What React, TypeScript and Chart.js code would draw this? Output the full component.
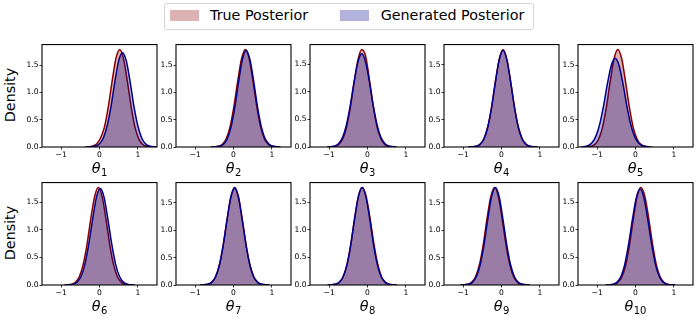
import React, { useEffect, useRef } from "react";
import { Chart, registerables } from "chart.js";
Chart.register(...registerables);

// ---------- data ----------
const xTicks = [-1, 0, 1];
const yTicks = [0, 0.5, 1.0, 1.5];
const subscripts = ["1", "2", "3", "4", "5", "6", "7", "8", "9", "10"];
const seriesNames = ["True Posterior", "Generated Posterior"];

const t1x = [-0.37, -0.17, -0.07, 0.03, 0.13, 0.23, 0.33, 0.43, 0.53, 0.63, 0.73, 0.83, 0.93, 1.03, 1.13, 1.23, 1.43];
const t1y = [0, 0.02, 0.06, 0.17, 0.37, 0.74, 1.21, 1.63, 1.79, 1.61, 1.19, 0.72, 0.35, 0.14, 0.045, 0.012, 0];
const g1x = [-0.3, -0.1, 0.0, 0.1, 0.2, 0.3, 0.4, 0.5, 0.6, 0.7, 0.8, 0.9, 1.0, 1.1, 1.2, 1.3, 1.5];
const g1y = [0, 0.017, 0.059, 0.166, 0.39, 0.74, 1.19, 1.58, 1.73, 1.58, 1.19, 0.74, 0.39, 0.166, 0.059, 0.017, 0];

const t2x = [-0.59, -0.39, -0.29, -0.19, -0.09, 0.01, 0.11, 0.21, 0.31, 0.41, 0.51, 0.61, 0.71, 0.81, 0.91, 1.01, 1.21];
const t2y = [0, 0.013, 0.048, 0.15, 0.37, 0.74, 1.21, 1.62, 1.79, 1.62, 1.2, 0.73, 0.36, 0.145, 0.047, 0.012, 0];
const g2x = [-0.57, -0.37, -0.27, -0.17, -0.07, 0.03, 0.13, 0.23, 0.33, 0.43, 0.53, 0.63, 0.73, 0.83, 0.93, 1.03, 1.23];
const g2y = [0, 0.012, 0.046, 0.14, 0.35, 0.71, 1.18, 1.6, 1.77, 1.6, 1.19, 0.72, 0.36, 0.145, 0.048, 0.013, 0];

const t3x = [-1.05, -0.85, -0.75, -0.65, -0.55, -0.45, -0.35, -0.25, -0.15, -0.05, 0.05, 0.15, 0.25, 0.35, 0.45, 0.55, 0.75];
const t3y = [0, 0.012, 0.045, 0.14, 0.35, 0.71, 1.17, 1.58, 1.77, 1.65, 1.22, 0.74, 0.36, 0.15, 0.047, 0.013, 0];
const g3x = [-1.05, -0.85, -0.75, -0.65, -0.55, -0.45, -0.35, -0.25, -0.15, -0.05, 0.05, 0.15, 0.25, 0.35, 0.45, 0.55, 0.75];
const g3y = [0, 0.02, 0.065, 0.176, 0.4, 0.75, 1.18, 1.54, 1.69, 1.54, 1.18, 0.75, 0.4, 0.176, 0.065, 0.02, 0];

const t4x = [-0.86, -0.66, -0.56, -0.46, -0.36, -0.26, -0.16, -0.06, 0.04, 0.14, 0.24, 0.34, 0.44, 0.54, 0.64, 0.74, 0.94];
const t4y = [0, 0.013, 0.048, 0.145, 0.36, 0.72, 1.19, 1.6, 1.78, 1.6, 1.19, 0.72, 0.36, 0.145, 0.048, 0.013, 0];
const g4x = [-0.86, -0.66, -0.56, -0.46, -0.36, -0.26, -0.16, -0.06, 0.04, 0.14, 0.24, 0.34, 0.44, 0.54, 0.64, 0.74, 0.94];
const g4y = [0, 0.014, 0.049, 0.147, 0.36, 0.72, 1.18, 1.59, 1.76, 1.59, 1.18, 0.72, 0.36, 0.147, 0.049, 0.014, 0];

const t5x = [-1.36, -1.16, -1.06, -0.96, -0.86, -0.76, -0.66, -0.56, -0.46, -0.36, -0.26, -0.16, -0.06, 0.04, 0.14, 0.24, 0.44];
const t5y = [0, 0.013, 0.048, 0.147, 0.36, 0.73, 1.2, 1.62, 1.79, 1.62, 1.2, 0.73, 0.36, 0.147, 0.048, 0.013, 0];
const g5x = [-1.43, -1.23, -1.13, -1.03, -0.93, -0.83, -0.73, -0.63, -0.53, -0.43, -0.33, -0.23, -0.13, -0.03, 0.07, 0.17, 0.37];
const g5y = [0, 0.028, 0.082, 0.204, 0.43, 0.77, 1.17, 1.5, 1.63, 1.5, 1.17, 0.77, 0.43, 0.204, 0.082, 0.028, 0];

const t6x = [-0.93, -0.73, -0.63, -0.53, -0.43, -0.33, -0.23, -0.13, -0.03, 0.07, 0.17, 0.27, 0.37, 0.47, 0.57, 0.67, 0.87];
const t6y = [0, 0.013, 0.048, 0.145, 0.36, 0.72, 1.19, 1.6, 1.77, 1.6, 1.19, 0.72, 0.36, 0.145, 0.048, 0.013, 0];
const g6x = [-0.88, -0.68, -0.58, -0.48, -0.38, -0.28, -0.18, -0.08, 0.02, 0.12, 0.22, 0.32, 0.42, 0.52, 0.62, 0.72, 0.92];
const g6y = [0, 0.016, 0.054, 0.158, 0.38, 0.74, 1.19, 1.59, 1.75, 1.59, 1.19, 0.74, 0.38, 0.158, 0.054, 0.016, 0];

const t7x = [-0.87, -0.67, -0.57, -0.47, -0.37, -0.27, -0.17, -0.07, 0.03, 0.13, 0.23, 0.33, 0.43, 0.53, 0.63, 0.73, 0.93];
const t7y = [0, 0.013, 0.048, 0.144, 0.36, 0.72, 1.18, 1.59, 1.76, 1.59, 1.18, 0.72, 0.36, 0.144, 0.048, 0.013, 0];
const g7x = [-0.87, -0.67, -0.57, -0.47, -0.37, -0.27, -0.17, -0.07, 0.03, 0.13, 0.23, 0.33, 0.43, 0.53, 0.63, 0.73, 0.93];
const g7y = [0, 0.013, 0.048, 0.146, 0.36, 0.72, 1.19, 1.61, 1.78, 1.61, 1.19, 0.72, 0.36, 0.146, 0.048, 0.013, 0];

const t8x = [-1.04, -0.84, -0.74, -0.64, -0.54, -0.44, -0.34, -0.24, -0.14, -0.04, 0.06, 0.16, 0.26, 0.36, 0.46, 0.56, 0.76];
const t8y = [0, 0.012, 0.046, 0.14, 0.35, 0.71, 1.18, 1.6, 1.77, 1.62, 1.24, 0.78, 0.4, 0.16, 0.052, 0.014, 0];
const g8x = [-1.04, -0.84, -0.74, -0.64, -0.54, -0.44, -0.34, -0.24, -0.14, -0.04, 0.06, 0.16, 0.26, 0.36, 0.46, 0.56, 0.76];
const g8y = [0, 0.013, 0.048, 0.145, 0.36, 0.72, 1.19, 1.6, 1.77, 1.6, 1.19, 0.72, 0.36, 0.145, 0.048, 0.013, 0];

const t9x = [-1.08, -0.88, -0.78, -0.68, -0.58, -0.48, -0.38, -0.28, -0.18, -0.08, 0.02, 0.12, 0.22, 0.32, 0.42, 0.52, 0.72];
const t9y = [0, 0.013, 0.048, 0.146, 0.36, 0.72, 1.2, 1.61, 1.78, 1.61, 1.19, 0.72, 0.36, 0.145, 0.048, 0.013, 0];
const g9x = [-1.06, -0.86, -0.76, -0.66, -0.56, -0.46, -0.36, -0.26, -0.16, -0.06, 0.04, 0.14, 0.24, 0.34, 0.44, 0.54, 0.74];
const g9y = [0, 0.013, 0.048, 0.146, 0.36, 0.72, 1.19, 1.61, 1.78, 1.61, 1.19, 0.72, 0.36, 0.146, 0.048, 0.013, 0];

const t10x = [-0.76, -0.56, -0.46, -0.36, -0.26, -0.16, -0.06, 0.04, 0.14, 0.24, 0.34, 0.44, 0.54, 0.64, 0.74, 0.84, 1.04];
const t10y = [0, 0.012, 0.046, 0.14, 0.35, 0.71, 1.18, 1.6, 1.77, 1.62, 1.23, 0.76, 0.38, 0.155, 0.05, 0.014, 0];
const g10x = [-0.78, -0.58, -0.48, -0.38, -0.28, -0.18, -0.08, 0.02, 0.12, 0.22, 0.32, 0.42, 0.52, 0.62, 0.72, 0.82, 1.02];
const g10y = [0, 0.015, 0.052, 0.155, 0.375, 0.74, 1.19, 1.58, 1.74, 1.58, 1.19, 0.74, 0.375, 0.155, 0.052, 0.015, 0];

const trueXs = [t1x, t2x, t3x, t4x, t5x, t6x, t7x, t8x, t9x, t10x];
const trueYs = [t1y, t2y, t3y, t4y, t5y, t6y, t7y, t8y, t9y, t10y];
const genXs = [g1x, g2x, g3x, g4x, g5x, g6x, g7x, g8x, g9x, g10x];
const genYs = [g1y, g2y, g3y, g4y, g5y, g6y, g7y, g8y, g9y, g10y];

// ---------- layout / style ----------
const FONT = "'DejaVu Sans', 'Liberation Sans', sans-serif";
const COL_LEFT = [42, 176, 310, 444, 578];
const ROW_TOP = [43, 181];
const PW = 115;
const PH = 104;
const PAD_L = 34;
const PAD_T = 4;
const PAD_R = 4;
const PAD_B = 14;
const RED_LINE = "rgb(139,0,0)";
const RED_FILL = "rgba(139,0,0,0.3)";
const BLUE_LINE = "rgb(0,0,139)";
const BLUE_FILL = "rgba(0,0,139,0.3)";

const framePlugin = {
  id: "frame",
  afterDraw(chart: any) {
    const { ctx, chartArea } = chart;
    ctx.save();
    ctx.strokeStyle = "#000";
    ctx.lineWidth = 1.1;
    ctx.strokeRect(chartArea.left, chartArea.top, chartArea.right - chartArea.left, chartArea.bottom - chartArea.top);
    ctx.restore();
  },
};

function Panel({ idx }: { idx: number }) {
  const ref = useRef<HTMLCanvasElement | null>(null);
  const col = idx % 5;
  const row = Math.floor(idx / 5);
  const left = COL_LEFT[col];
  const top = ROW_TOP[row];
  const W = PAD_L + PW + PAD_R;
  const H = PAD_T + PH + PAD_B;

  useEffect(() => {
    if (!ref.current) return;
    const tx = trueXs[idx], ty = trueYs[idx], gx = genXs[idx], gy = genYs[idx];
    const ymax = Math.max(...ty, ...gy) * 1.05;
    const tickFont = { family: FONT, size: 7.6 };
    const chart = new Chart(ref.current, {
      type: "line",
      data: {
        datasets: [
          {
            label: seriesNames[0],
            data: tx.map((x, i) => ({ x, y: ty[i] })),
            borderColor: RED_LINE,
            backgroundColor: RED_FILL,
            fill: "origin",
            borderWidth: 1.5,
            pointRadius: 0,
            cubicInterpolationMode: "monotone",
            order: 1,
          },
          {
            label: seriesNames[1],
            data: gx.map((x, i) => ({ x, y: gy[i] })),
            borderColor: BLUE_LINE,
            backgroundColor: BLUE_FILL,
            fill: "origin",
            borderWidth: 1.5,
            pointRadius: 0,
            cubicInterpolationMode: "monotone",
            order: 0,
          },
        ],
      },
      options: {
        animation: false,
        responsive: false,
        maintainAspectRatio: false,
        events: [],
        layout: { padding: { top: PAD_T, right: PAD_R, left: 0, bottom: 0 } },
        plugins: { legend: { display: false }, tooltip: { enabled: false } },
        scales: {
          x: {
            type: "linear",
            min: -1.5,
            max: 1.5,
            afterBuildTicks: (s: any) => {
              s.ticks = xTicks.map((v) => ({ value: v }));
            },
            afterFit: (s: any) => {
              s.height = PAD_B;
            },
            grid: { display: true, drawOnChartArea: false, drawTicks: true, tickLength: 2.5, color: "#000", lineWidth: 0.8 },
            border: { display: false },
            ticks: {
              padding: 1,
              color: "#000",
              font: tickFont,
              maxRotation: 0,
              autoSkip: false,
              callback: (v: any) => (v < 0 ? "\u2212" + Math.abs(v) : String(v)),
            },
          },
          y: {
            type: "linear",
            min: 0,
            max: ymax,
            afterBuildTicks: (s: any) => {
              s.ticks = yTicks.map((v) => ({ value: v }));
            },
            afterFit: (s: any) => {
              s.width = PAD_L;
            },
            grid: { display: true, drawOnChartArea: false, drawTicks: true, tickLength: 2.5, color: "#000", lineWidth: 0.8 },
            border: { display: false },
            ticks: {
              padding: 1,
              color: "#000",
              font: tickFont,
              autoSkip: false,
              callback: (v: any) => Number(v).toFixed(1),
            },
          },
        },
      },
      plugins: [framePlugin],
    } as any);
    return () => chart.destroy();
  }, [idx]);

  return (
    <>
      <canvas
        ref={ref}
        width={W}
        height={H}
        style={{ position: "absolute", left: left - PAD_L, top: top - PAD_T, width: W, height: H }}
      />
      <div
        style={{
          position: "absolute",
          left,
          top: top + PH + 13,
          width: PW,
          textAlign: "center",
          fontFamily: FONT,
          fontSize: 14.3,
          lineHeight: "16px",
          color: "#000",
          whiteSpace: "nowrap",
        }}
      >
        <span style={{ fontStyle: "italic" }}>θ</span>
        <span style={{ fontSize: 10, position: "relative", top: 2.5, marginLeft: 0.5 }}>{subscripts[idx]}</span>
      </div>
    </>
  );
}

export default function App() {
  const densityStyle = (cy: number): React.CSSProperties => ({
    position: "absolute",
    left: 9.5,
    top: cy,
    transform: "translate(-50%, -50%) rotate(-90deg)",
    fontFamily: FONT,
    fontSize: 14.3,
    lineHeight: "16px",
    color: "#000",
    whiteSpace: "nowrap",
  });
  return (
    <div style={{ position: "fixed", left: 0, top: 0, width: 697, height: 316, background: "#fff", overflow: "hidden" }}>
      {/* legend */}
      <div
        style={{
          position: "absolute",
          left: 164,
          top: 3,
          width: 368,
          height: 25,
          border: "1px solid #d6d6d6",
          borderRadius: 3,
          background: "#fff",
        }}
      />
      <div style={{ position: "absolute", left: 170, top: 10, width: 29, height: 10.5, background: RED_FILL }} />
      <div style={{ position: "absolute", left: 210, top: 7.4, fontFamily: FONT, fontSize: 14.3, lineHeight: "16px", whiteSpace: "nowrap" }}>
        {seriesNames[0]}
      </div>
      <div style={{ position: "absolute", left: 340, top: 10, width: 29, height: 10.5, background: BLUE_FILL }} />
      <div style={{ position: "absolute", left: 380.7, top: 7.4, fontFamily: FONT, fontSize: 14.3, lineHeight: "16px", whiteSpace: "nowrap" }}>
        {seriesNames[1]}
      </div>
      <div style={densityStyle(95)}>Density</div>
      <div style={densityStyle(233)}>Density</div>
      {subscripts.map((_, i) => (
        <Panel key={i} idx={i} />
      ))}
    </div>
  );
}
